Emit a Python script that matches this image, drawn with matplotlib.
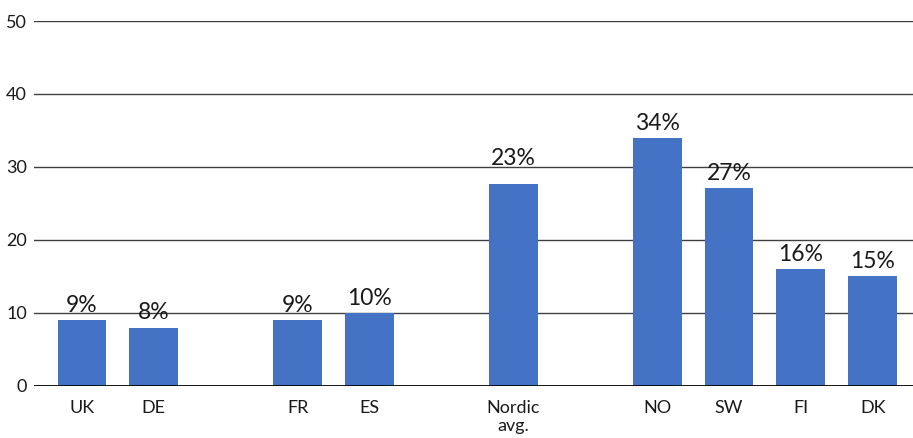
import matplotlib.pyplot as plt

categories = ['UK', 'DE', 'FR', 'ES', 'Nordic\navg.', 'NO', 'SW', 'FI', 'DK']
# slot index of each bar (empty slots make the group gaps)
slots = [0, 1, 3, 4, 6, 8, 9, 10, 11]
values = [9, 8, 9, 10, 27.6, 34, 27.1, 16, 15]
value_labels = ['9%', '8%', '9%', '10%', '23%', '34%', '27%', '16%', '15%']
y_ticks = [0, 10, 20, 30, 40, 50]

plt.rcParams['font.family'] = ['Lato', 'DejaVu Sans']

fig = plt.figure(figsize=(9.13, 4.38), dpi=100)
ax = fig.add_axes([0.037, 0.119, 0.963, 0.833])

# horizontal grid lines
for t in y_ticks[1:]:
    ax.axhline(t, color='#404040', lw=1, zorder=1)
ax.axhline(0, color='black', lw=2, zorder=3)

bars = ax.bar(slots, values, width=0.68, color='#4472C4', zorder=2)

for b, lab in zip(bars, value_labels):
    # the Nordic avg. label sits a bit higher in the original
    off = 11 if lab == '23%' else 3
    ax.annotate(lab, (b.get_x() + b.get_width() / 2, b.get_height()),
                xytext=(0, off), textcoords='offset points',
                ha='center', va='bottom', fontsize=16.5, color='#1a1a1a')

ax.set_xlim(-0.67, 11.56)
ax.set_ylim(0, 50)
ax.set_yticks(y_ticks)
ax.set_xticks(slots)
ax.set_xticklabels(categories, fontsize=13, color='#1a1a1a', linespacing=1.15)
ax.tick_params(axis='y', length=0, pad=5, labelsize=13, labelcolor='#1a1a1a')
ax.tick_params(axis='x', length=0, pad=10)

for s in ax.spines.values():
    s.set_visible(False)

fig.savefig('out.png', dpi=100)
